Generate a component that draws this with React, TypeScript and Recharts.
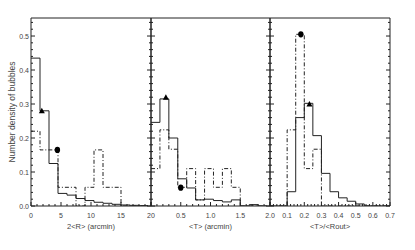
import React from 'react';
import { ComposedChart, Line, Scatter, XAxis, YAxis } from 'recharts';

// bin edges (one more than the values) and densities
const edgesR = [0, 1.5, 3, 4.5, 6, 7.5, 9, 10.5, 12, 13.5, 15, 16.5, 18, 19.5];
const solidR = [0.435, 0.28, 0.125, 0.037, 0.032, 0.022, 0.016, 0.011, 0.008, 0.005, 0.003, 0.002, 0.001];
const dashR = [0.22, 0.165, 0.165, 0.055, 0.055, 0, 0.055, 0.165, 0.055, 0.055, 0, 0, 0];
const triR = [{ x: 1.8, y: 0.28 }];
const dotR = [{ x: 4.4, y: 0.165 }];

const edgesT = [0, 0.15, 0.3, 0.45, 0.6, 0.75, 0.9, 1.05, 1.2, 1.35, 1.5, 1.65, 1.8, 1.95];
const solidT = [0.246, 0.315, 0.2, 0.08, 0.053, 0.018, 0.02, 0.016, 0.012, 0.018, 0, 0.004, 0];
const dashT = [0.11, 0.224, 0.167, 0.055, 0.11, 0.018, 0.11, 0.055, 0.11, 0.055, 0, 0, 0];
const triT = [{ x: 0.25, y: 0.32 }];
const dotT = [{ x: 0.5, y: 0.054 }];

const edgesQ = [0, 0.05, 0.1, 0.15, 0.2, 0.25, 0.3, 0.35, 0.4, 0.45, 0.5, 0.55, 0.6, 0.65, 0.7];
const solidQ = [0, 0, 0.042, 0.26, 0.302, 0.207, 0.096, 0.042, 0.024, 0.014, 0.006, 0, 0, 0];
const dashQ = [0, 0, 0.224, 0.505, 0.11, 0.167, 0, 0, 0, 0, 0, 0, 0, 0];
const triQ = [{ x: 0.23, y: 0.3 }];
const dotQ = [{ x: 0.18, y: 0.505 }];

const yTicks = [0, 0.1, 0.2, 0.3, 0.4, 0.5];
const xTicksR = [0, 5, 10, 15, 20];
const xTicksT = [0, 0.5, 1, 1.5, 2];
const xTicksQ = [0, 0.1, 0.2, 0.3, 0.4, 0.5, 0.6, 0.7];

const Y_MAX = 0.553;
const INK = '#222';
const TXT = '#444';

const range = (a: number, b: number, s: number) => {
  const out: number[] = [];
  for (let v = a; v <= b + 1e-9; v += s) out.push(Math.round(v * 1000) / 1000);
  return out;
};

const steps = (edges: number[], vals: number[]) =>
  edges.map((x, i) => ({ x, y: vals[Math.min(i, vals.length - 1)] }));

const isMajor = (majors: number[], v: number) => majors.some((m) => Math.abs(m - v) < 1e-6);

// one axis per side; the tick renderer draws inward tick marks (major + minor) and the labels
const tickFor = (side: 'b' | 't' | 'l' | 'r', majors: number[], fmt?: (v: number) => string) => (props: any) => {
  const { x, y, payload } = props;
  const v = payload.value;
  const len = isMajor(majors, v) ? 4 : 2;
  let l;
  if (side === 'b') l = <line x1={x} x2={x} y1={y} y2={y - len} stroke={INK} />;
  else if (side === 't') l = <line x1={x} x2={x} y1={y} y2={y + len} stroke={INK} />;
  else if (side === 'l') l = <line x1={x} x2={x + len} y1={y} y2={y} stroke={INK} />;
  else l = <line x1={x} x2={x - len} y1={y} y2={y} stroke={INK} />;
  let t = null;
  if (fmt && isMajor(majors, v)) {
    if (side === 'b')
      t = <text x={x} y={y + 12} textAnchor="middle" fontSize={7} fill={TXT}>{fmt(v)}</text>;
    else if (side === 'l')
      t = <text x={x - 2} y={y + 2.5} textAnchor="end" fontSize={7} fill={TXT}>{fmt(v)}</text>;
  }
  return (
    <g>
      {l}
      {t}
    </g>
  );
};

const triangle = (p: any) => (
  <polygon points={`${p.cx - 3},${p.cy + 2.5} ${p.cx + 3},${p.cy + 2.5} ${p.cx},${p.cy - 3}`} fill="#000" />
);
const blob = (p: any) => <ellipse cx={p.cx} cy={p.cy} rx={2.7} ry={3.1} fill="#000" />;

type PanelProps = {
  left: number;
  width: number;
  margin: { left: number; right: number };
  domain: [number, number];
  major: number[];
  minorStep: number;
  fmt: (v: number) => string;
  showY?: boolean;
  title: string;
  edges: number[];
  solid: number[];
  dash: number[];
  tri: { x: number; y: number }[];
  dot: { x: number; y: number }[];
};

function Panel(p: PanelProps) {
  const allX = range(p.domain[0], p.domain[1], p.minorStep);
  const allY = range(0, 0.54, 0.02);
  const line = { stroke: INK };
  return (
    <div style={{ position: 'absolute', left: p.left, top: 0 }}>
      <ComposedChart
        width={p.width}
        height={250}
        margin={{ top: 17, bottom: 43, left: p.margin.left - 1, right: p.margin.right - 1 }}
      >
        <XAxis
          xAxisId="b" type="number" dataKey="x" domain={p.domain} allowDataOverflow
          ticks={allX} interval={0} height={1} tickSize={0} tickMargin={0}
          tickLine={false} axisLine={line} tick={tickFor('b', p.major, p.fmt)}
          label={{ value: p.title, position: 'bottom', offset: 17, fontSize: 7.5, fill: TXT }}
        />
        <XAxis
          xAxisId="t" orientation="top" type="number" domain={p.domain} allowDataOverflow
          ticks={allX} interval={0} height={1} tickSize={0} tickMargin={0}
          tickLine={false} axisLine={line} tick={tickFor('t', p.major)}
        />
        <YAxis
          yAxisId="l" type="number" domain={[0, Y_MAX]} allowDataOverflow ticks={allY} interval={0}
          width={1} tickSize={0} tickMargin={0} tickLine={false} axisLine={line}
          tick={tickFor('l', yTicks, p.showY ? (v: number) => v.toFixed(1) : undefined)}
        />
        <YAxis
          yAxisId="r" orientation="right" type="number" domain={[0, Y_MAX]} allowDataOverflow ticks={allY}
          interval={0} width={1} tickSize={0} tickMargin={0} tickLine={false} axisLine={line}
          tick={tickFor('r', yTicks)}
        />

        <Line
          xAxisId="b" yAxisId="l" data={steps(p.edges, p.dash)} dataKey="y" type="stepAfter"
          stroke={INK} strokeWidth={1} strokeDasharray="4 2 1 2" dot={false} activeDot={false}
          isAnimationActive={false}
        />
        <Line
          xAxisId="b" yAxisId="l" data={steps(p.edges, p.solid)} dataKey="y" type="stepAfter"
          stroke={INK} strokeWidth={1} dot={false} activeDot={false} isAnimationActive={false}
        />
        <Scatter xAxisId="b" yAxisId="l" data={p.tri} dataKey="y" shape={triangle} isAnimationActive={false} />
        <Scatter xAxisId="b" yAxisId="l" data={p.dot} dataKey="y" shape={blob} isAnimationActive={false} />
      </ComposedChart>
    </div>
  );
}

export default function App() {
  const hideZero = (v: number) => (v === 0 ? '' : v.toFixed(1));
  return (
    <div
      style={{
        position: 'absolute', left: 0, top: 0, width: 415, height: 250,
        background: '#fff', fontFamily: '"Liberation Sans", Arial, sans-serif',
      }}
    >
      <Panel
        left={0} width={165} margin={{ left: 31, right: 14 }} domain={[0, 20]} major={xTicksR}
        minorStep={1} fmt={(v) => String(v)} showY title="2<R> (arcmin)"
        edges={edgesR} solid={solidR} dash={dashR} tri={triR} dot={dotR}
      />
      <Panel
        left={140} width={145} margin={{ left: 11, right: 15 }} domain={[0, 2]} major={xTicksT}
        minorStep={0.1} fmt={hideZero} title="<T> (arcmin)"
        edges={edgesT} solid={solidT} dash={dashT} tri={triT} dot={dotT}
      />
      <Panel
        left={255} width={160} margin={{ left: 15, right: 25 }} domain={[0, 0.7]} major={xTicksQ}
        minorStep={0.02} fmt={hideZero} title="<T>/<Rout>"
        edges={edgesQ} solid={solidQ} dash={dashQ} tri={triQ} dot={dotQ}
      />
      <div
        style={{
          position: 'absolute', left: 12, top: 112, transform: 'translate(-50%, -50%) rotate(-90deg)',
          whiteSpace: 'nowrap', fontSize: 8.5, color: TXT, lineHeight: 1,
        }}
      >
        Number density of bubbles
      </div>
    </div>
  );
}
